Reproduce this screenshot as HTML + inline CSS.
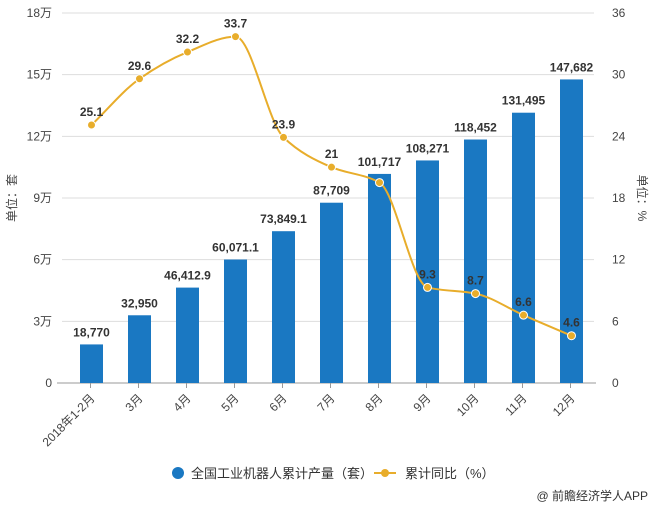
<!DOCTYPE html>
<html><head><meta charset="utf-8"><style>
body{margin:0;background:#fff;width:653px;height:508px;overflow:hidden;font-family:"Liberation Sans","Noto Sans CJK SC",sans-serif}
</style></head><body>
<svg id="s" width="653" height="508" xmlns="http://www.w3.org/2000/svg" font-family="Liberation Sans, Noto Sans CJK SC, sans-serif"></svg>
<script>
(function(){
var s=document.getElementById('s');var h='';
var base=383,H=370;
var lt=['0','3万','6万','9万','12万','15万','18万'],rt=[0,6,12,18,24,30,36];
for(var i=0;i<7;i++){var y=base-i*H/6;
 if(i>0)h+='<line x1="62" x2="594" y1="'+y+'" y2="'+y+'" stroke="#ddd" stroke-width="1"/>';
 h+='<text x="52" y="'+(y+4)+'" font-size="12" fill="#444" text-anchor="end">'+lt[i]+'</text>';
 h+='<text x="612" y="'+(y+4)+'" font-size="12" fill="#444">'+rt[i]+'</text>';}
h+='<line x1="57" x2="596" y1="'+base+'" y2="'+base+'" stroke="#999"/>';
var bars=[18770,32950,46412.9,60071.1,73849.1,87709,101717,108271,118452,131495,147682];
var bl=['18,770','32,950','46,412.9','60,071.1','73,849.1','87,709','101,717','108,271','118,452','131,495','147,682'];
var xl=['2018年1-2月','3月','4月','5月','6月','7月','8月','9月','10月','11月','12月'];
var lv=[25.1,29.6,32.2,33.7,23.9,21,19.5,9.3,8.7,6.6,4.6];
var ll=['25.1','29.6','32.2','33.7','23.9','21','','9.3','8.7','6.6','4.6'];
var pts=[];
for(var i=0;i<bars.length;i++){var v=bars[i],cx=91.5+48*i,bh=v/180000*H,yy=base-bh;
 h+='<rect x="'+(cx-11.5)+'" y="'+yy+'" width="23" height="'+bh+'" fill="#1a78c2"/>';
 h+='<text x="'+cx+'" y="'+(yy-8)+'" font-size="12" font-weight="bold" fill="#333" text-anchor="middle">'+bl[i]+'</text>';
 h+='<line x1="'+(cx-1)+'" x2="'+(cx-1)+'" y1="'+base+'" y2="'+(base+5)+'" stroke="#999"/>';
 h+='<text transform="translate('+(cx+4)+','+(base+16)+') rotate(-45)" font-size="12" fill="#444" text-anchor="end">'+xl[i]+'</text>';
 pts.push([cx,base-lv[i]*H/36]);}
// monotone cubic
var n=pts.length,dx=48,m=[],sl=[];
for(var i=0;i<n-1;i++)sl.push((pts[i+1][1]-pts[i][1])/dx);
for(var i=0;i<n;i++){
 if(i==0)m.push(sl[0]);else if(i==n-1)m.push(sl[n-2]);
 else{var a=sl[i-1],b=sl[i];m.push(a*b<=0?0:(2*a*b)/(a+b));}}
var d='M'+pts[0][0]+','+pts[0][1];
for(var i=0;i<n-1;i++){var p1=pts[i],p2=pts[i+1];
 d+=' C'+(p1[0]+dx/3)+','+(p1[1]+m[i]*dx/3)+' '+(p2[0]-dx/3)+','+(p2[1]-m[i+1]*dx/3)+' '+p2[0]+','+p2[1];}
h+='<path d="'+d+'" fill="none" stroke="#e8ad2b" stroke-width="2"/>';
for(var i=0;i<n;i++){var p=pts[i];h+='<circle cx="'+p[0]+'" cy="'+p[1]+'" r="4" fill="#e8ad2b" stroke="#fff" stroke-width="1"/>';
 if(ll[i])h+='<text x="'+p[0]+'" y="'+(p[1]-9)+'" font-size="12" font-weight="bold" fill="#333" text-anchor="middle">'+ll[i]+'</text>';}
h+='<text transform="translate(16,198) rotate(-90)" font-size="12" fill="#444" text-anchor="middle">单位：套</text>';
h+='<text transform="translate(638,198) rotate(90)" font-size="12" fill="#444" text-anchor="middle">单位：%</text>';
h+='<circle cx="178" cy="473" r="6" fill="#1a78c2"/><text x="191" y="478" font-size="13" fill="#333">全国工业机器人累计产量（套）</text>';
h+='<line x1="374" x2="396" y1="473" y2="473" stroke="#e8ad2b" stroke-width="2"/><circle cx="385" cy="473" r="4" fill="#e8ad2b"/><text x="405" y="478" font-size="13" fill="#333">累计同比（%）</text>';
h+='<text x="648" y="500" font-size="12" fill="#333" text-anchor="end">@ 前瞻经济学人APP</text>';
s.innerHTML=h;
})();
</script>
</body></html>
